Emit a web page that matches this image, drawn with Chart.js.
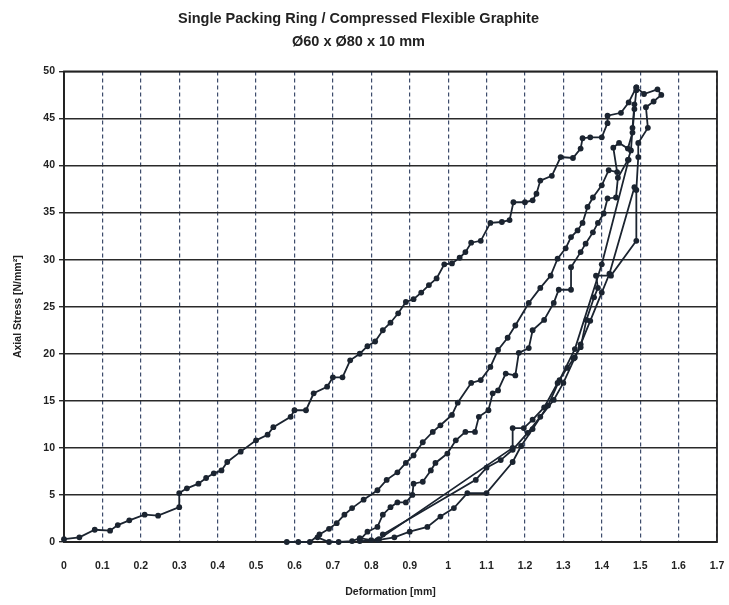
<!DOCTYPE html>
<html><head><meta charset="utf-8">
<script src="https://cdn.jsdelivr.net/npm/chart.js@4.4.1/dist/chart.umd.min.js"></script>
<style>html,body{margin:0;padding:0;background:#fff;overflow:hidden}#wrap{width:729px;height:605px;position:relative}</style>
</head><body><div id="wrap"><canvas id="c"></canvas></div>
<script>
// ---- text ----
const chartTitle = ['Single Packing Ring / Compressed Flexible Graphite', '\u00D860 x \u00D880 x 10 mm'];
const xAxisTitle = 'Deformation [mm]';
const yAxisTitle = 'Axial Stress [N/mm\u00B2]';

// ---- ticks ----
const xTicks = [0,0.1,0.2,0.3,0.4,0.5,0.6,0.7,0.8,0.9,1,1.1,1.2,1.3,1.4,1.5,1.6,1.7];
const xTickLabels = ['0','0.1','0.2','0.3','0.4','0.5','0.6','0.7','0.8','0.9','1','1.1','1.2','1.3','1.4','1.5','1.6','1.7'];
const yTicks = [0,5,10,15,20,25,30,35,40,45,50];

// ---- series: first loading ----
const loadX = [0,0.04,0.08,0.12,0.14,0.17,0.21,0.245,0.30,0.30,0.32,0.35,0.37,0.39,0.41,0.425,0.46,0.50,0.53,0.545,0.59,0.60,0.63,0.65,0.685,0.70,0.725,0.745,0.77,0.79,0.81,0.83,0.85,0.87,0.89,0.91,0.93,0.95,0.97,0.99,1.01,1.03,1.045,1.06,1.085,1.11,1.14,1.16,1.17,1.20,1.22,1.23,1.24,1.27,1.293,1.325,1.345,1.35,1.37,1.40,1.415,1.415,1.45,1.47,1.49];
const loadY = [0.3,0.5,1.3,1.2,1.8,2.3,2.9,2.8,3.7,5.2,5.7,6.2,6.8,7.3,7.6,8.5,9.6,10.8,11.4,12.2,13.3,14.0,14.0,15.8,16.5,17.5,17.5,19.3,20.0,20.8,21.3,22.5,23.3,24.3,25.5,25.8,26.5,27.3,28.0,29.5,29.6,30.2,30.8,31.8,32.0,33.9,34.0,34.2,36.1,36.1,36.3,37.0,38.4,38.9,40.9,40.8,41.8,42.9,43.0,43.0,44.5,45.3,45.6,46.7,48.3];

// ---- series: reloading A ----
const reloadAX = [0.58,0.61,0.64,0.665,0.69,0.71,0.73,0.75,0.78,0.816,0.84,0.868,0.89,0.91,0.934,0.96,0.98,1.01,1.025,1.06,1.085,1.11,1.13,1.155,1.175,1.21,1.24,1.267,1.285,1.306,1.32,1.337,1.35,1.363,1.377,1.40,1.418,1.44,1.43,1.445,1.468,1.48,1.485,1.49];
const reloadAY = [0,0,0,0.8,1.4,2.0,2.9,3.6,4.5,5.5,6.6,7.4,8.4,9.2,10.6,11.7,12.4,13.5,14.8,16.9,17.2,18.6,20.4,21.7,23.0,25.4,27.0,28.3,30.1,31.2,32.4,33.1,33.9,35.6,36.6,37.9,39.5,39.3,41.9,42.4,41.8,43.5,46.0,48.0];

// ---- series: reloading B ----
const reloadBX = [0.77,0.79,0.816,0.83,0.85,0.868,0.89,0.907,0.91,0.934,0.955,0.967,0.998,1.02,1.045,1.07,1.08,1.105,1.116,1.13,1.15,1.175,1.184,1.21,1.22,1.25,1.275,1.288,1.32,1.32,1.345,1.358,1.377,1.39,1.405,1.415,1.437,1.442,1.468,1.476,1.48,1.485];
const reloadBY = [0.2,1.1,1.6,2.9,3.7,4.2,4.2,5.0,6.2,6.4,7.6,8.4,9.4,10.8,11.7,11.7,13.3,14.0,15.8,16.1,17.9,17.7,20.1,20.6,22.5,23.6,25.4,26.8,26.8,29.2,30.8,31.7,32.9,33.9,34.9,36.5,36.6,38.7,40.6,41.6,44.0,46.5];

// ---- series: unloading 1 ----
const unload1X = [1.49,1.51,1.545,1.555,1.535,1.515,1.52,1.495,1.495,1.49,1.49,1.424,1.385,1.39,1.38,1.36,1.345,1.327,1.31,1.285,1.25,1.22,1.197,1.168,1.168,0.82,0.80,0.77,0.75,0.715,0.69,0.66];
const unload1Y = [48.3,47.6,48.1,47.5,46.8,46.2,44.0,42.4,40.9,37.4,32.0,28.3,28.3,27.0,26.0,23.6,20.7,19.5,18.5,16.9,14.3,13.0,12.1,12.1,10.0,0.3,0.2,0.4,0.1,0,0,0.5];

// ---- series: unloading 2 ----
const unload2X = [1.485,1.42,1.40,1.37,1.345,1.33,1.30,1.275,1.24,1.207,1.168,1.137,1.10,1.072,0.83];
const unload2Y = [37.7,28.5,26.5,23.5,21.0,19.6,16.9,15.1,13.3,11.6,9.8,8.7,7.9,6.6,0.8];

// ---- series: unloading 3 ----
const unload3X = [1.47,1.40,1.33,1.29,1.26,1.22,1.19,1.168,1.10,1.05,1.015,0.98,0.946,0.90,0.86,0.816,0.77];
const unload3Y = [40.6,29.5,20.5,17.2,14.5,12.0,10.2,8.5,5.2,5.2,3.6,2.7,1.6,1.1,0.5,0.2,0.1];

const seriesNames = ['Loading', 'Reloading A', 'Reloading B', 'Unloading 1', 'Unloading 2', 'Unloading 3'];
const seriesXs = [loadX, reloadAX, reloadBX, unload1X, unload2X, unload3X];
const seriesYs = [loadY, reloadAY, reloadBY, unload1Y, unload2Y, unload3Y];

const ink = '#1b2430';
const FONT = "'Liberation Sans', Arial, sans-serif";

const datasets = seriesNames.map((name, i) => ({
  label: name,
  data: seriesXs[i].map((x, j) => ({x: x, y: seriesYs[i][j]})),
  borderColor: ink,
  backgroundColor: ink,
  borderWidth: 1.8,
  pointRadius: 2.9,
  pointHoverRadius: 2.9,
  pointBorderWidth: 0,
  pointBackgroundColor: ink,
  tension: 0,
  fill: false,
  clip: 8
}));

const framePlugin = {
  id: 'frame',
  beforeDatasetsDraw(chart) {
    const a = chart.chartArea, ctx = chart.ctx;
    ctx.save();
    ctx.strokeStyle = '#222';
    ctx.lineWidth = 1.8;
    ctx.strokeRect(a.left, a.top, a.right - a.left, a.bottom - a.top);
    ctx.restore();
  }
};

new Chart(document.getElementById('c'), {
  type: 'line',
  data: { datasets: datasets },
  plugins: [framePlugin],
  options: {
    responsive: true,
    maintainAspectRatio: false,
    animation: false,
    layout: { padding: { left: 0, right: 12, top: 0, bottom: 0 } },
    plugins: {
      legend: { display: false },
      tooltip: { enabled: false },
      title: {
        display: true,
        text: chartTitle,
        color: '#222',
        font: { family: FONT, size: 14.5, weight: 'bold', lineHeight: 1.6 },
        padding: { top: 7, bottom: 18 }
      }
    },
    scales: {
      x: {
        type: 'linear',
        min: 0, max: 1.7,
        afterBuildTicks: s => { s.ticks = xTicks.map(v => ({ value: v })); },
        afterFit: s => { s.height = 63; s.paddingRight = 0; s.paddingLeft = 0; },
        ticks: {
          callback: (v, i) => xTickLabels[i],
          color: '#222',
          font: { family: FONT, size: 10.5, weight: 'bold' },
          padding: 18,
          maxRotation: 0,
          autoSkip: false
        },
        grid: { color: '#3d4c6c', lineWidth: 1.2, drawTicks: false },
        border: { display: true, color: '#222', width: 1.8, dash: [4, 3] },
        title: {
          display: true, text: xAxisTitle, color: '#222',
          font: { family: FONT, size: 10.5, weight: 'bold', lineHeight: 1.2 },
          padding: { top: 0, bottom: 7 }
        }
      },
      y: {
        type: 'linear',
        min: 0, max: 50,
        afterBuildTicks: s => { s.ticks = yTicks.map(v => ({ value: v })); },
        afterFit: s => { s.width = 64; },
        ticks: {
          color: '#222',
          font: { family: FONT, size: 10.5, weight: 'bold' },
          padding: 4
        },
        grid: { color: '#2a2a2a', lineWidth: 1.4, drawTicks: true, tickLength: 5, tickColor: '#2a2a2a' },
        border: { display: true, color: '#222', width: 1.8 },
        title: {
          display: true, text: yAxisTitle, color: '#222',
          font: { family: FONT, size: 10.5, weight: 'bold', lineHeight: 1.2 },
          padding: { top: 12, bottom: 0 }
        }
      }
    }
  }
});
</script>
</body></html>
